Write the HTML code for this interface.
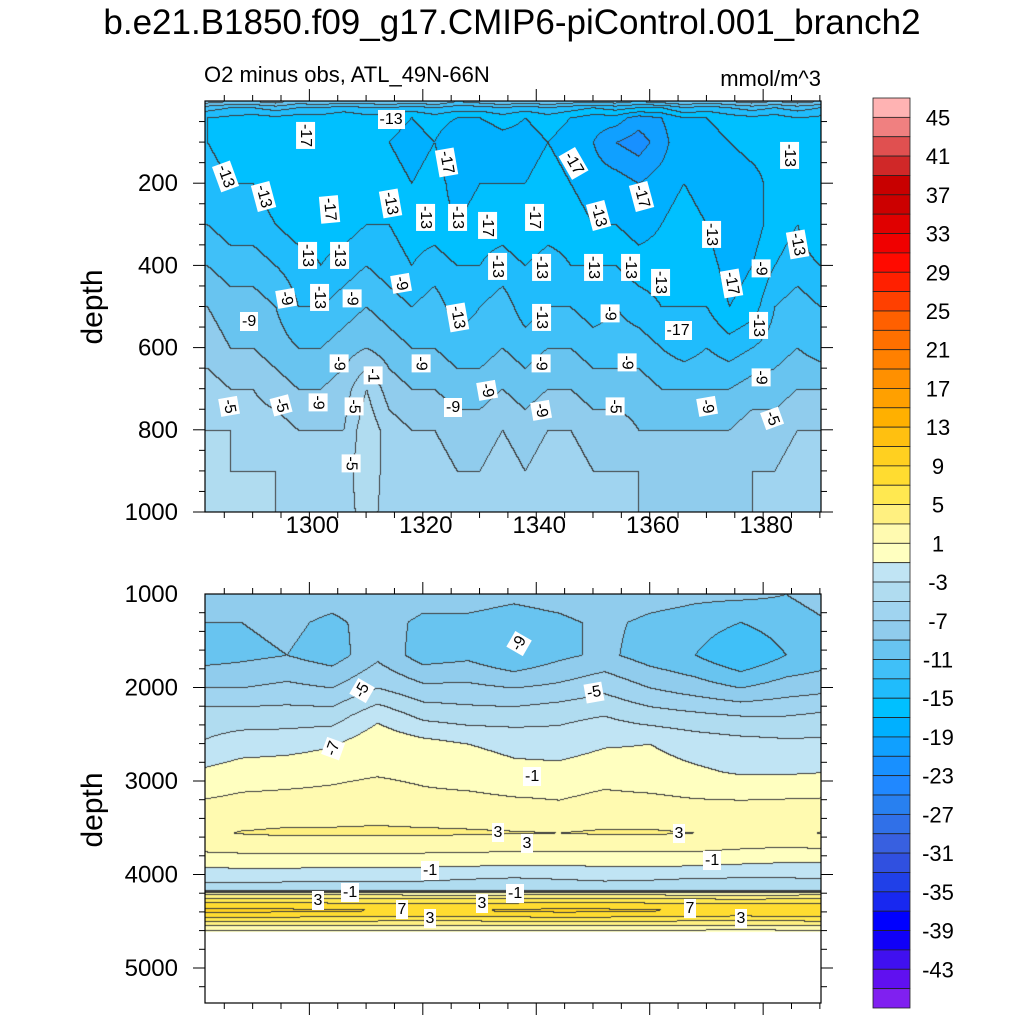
<!DOCTYPE html>
<html><head><meta charset="utf-8">
<style>
html,body{margin:0;padding:0;background:#fff;}
#root{position:relative;width:1024px;height:1024px;overflow:hidden;font-family:"Liberation Sans",sans-serif;color:#000;}
.t{position:absolute;white-space:nowrap;}
.lbl{position:absolute;background:#fff;font-size:16px;line-height:17px;padding:1px 2px;transform-origin:center center;white-space:nowrap;}
canvas{position:absolute;}
svg{position:absolute;left:0;top:0;}
</style></head><body>
<div id="root">
<div class="t" style="left:0;width:1024px;text-align:center;top:3px;font-size:35px;">b.e21.B1850.f09_g17.CMIP6-piControl.001_branch2</div>
<div class="t" style="left:204px;top:62px;font-size:22px;">O2 minus obs, ATL_49N-66N</div>
<div class="t" style="left:620px;width:201px;text-align:right;top:66px;font-size:22px;">mmol/m^3</div>
<div class="t" style="left:43px;top:290px;font-size:30px;line-height:34px;transform:rotate(-90deg);transform-origin:50px 17px;width:100px;text-align:center;">depth</div>
<div class="t" style="left:43px;top:793px;font-size:30px;line-height:34px;transform:rotate(-90deg);transform-origin:50px 17px;width:100px;text-align:center;">depth</div>
<canvas id="cTop" width="616" height="411" style="left:205px;top:101px;"></canvas>
<canvas id="cBot" width="616" height="409" style="left:205px;top:594px;"></canvas>
<svg id="axes" width="1024" height="1024"></svg>
<div id="labels"></div>
</div>
<script>
// ---------- data ----------
const topYears = [1282,1286,1290,1294,1298,1302,1306,1310,1314,1318,1322,1326,1330,1334,1338,1342,1346,1350,1354,1358,1362,1366,1370,1374,1378,1382,1386,1390];
const topDepths = [0,15,40,100,200,300,400,500,600,700,800,900,1000];
const topRows = [
 [-8,-9,-9,-8,-10,-9,-10,-10,-9,-10,-9,-11,-10,-9,-10,-9,-10,-10,-10,-11,-10,-9,-10,-9,-8,-9,-8,-9],
 [-12,-13,-13,-12,-13,-13,-14,-13,-13,-14,-13,-14,-14,-13,-14,-13,-14,-15,-14,-15,-15,-13,-14,-13,-12,-13,-12,-13],
 [-15,-15.5,-16,-15.5,-16,-16,-16.5,-16,-16,-17,-16,-17,-17,-16,-17,-16,-17,-18,-18,-20,-19,-17,-17,-16,-15.5,-16,-15,-15.5],
 [-15,-16,-16,-16,-17,-16,-17,-16,-17,-18,-17,-19,-19,-18,-18,-17,-18,-19,-21,-22,-20,-17,-18,-17,-16,-16,-15,-16],
 [-14,-15,-15,-16,-17,-16,-17,-16,-16,-17,-16,-18,-17,-17,-17,-16,-17,-18,-18,-19,-18,-17,-18,-19,-18,-16,-16,-17],
 [-13,-14,-14,-15,-16,-16,-16,-15,-15,-16,-16,-17,-16,-16,-17,-16,-16,-17,-17,-18,-17,-16,-17,-19,-18,-16,-15,-17],
 [-11,-12,-12,-13,-14,-15,-14,-13,-14,-15,-14,-15,-15,-14,-15,-14,-15,-15,-15,-16,-16,-15,-16,-18,-17,-15,-14,-15],
 [-9,-10,-10,-11,-13,-13,-12,-11,-12,-13,-12,-14,-13,-12,-14,-13,-13,-14,-13,-14,-15,-15,-15,-17,-16,-13,-12,-13],
 [-8,-9,-9,-10,-11,-11,-10,-9,-10,-11,-11,-12,-12,-11,-12,-11,-11,-12,-12,-12,-13,-14,-13,-14,-13,-12,-11,-12],
 [-6,-7,-7,-8,-9,-9,-8,-5,-8,-9,-9,-10,-10,-9,-10,-9,-9,-10,-10,-10,-11,-11,-11,-11,-10,-10,-9,-9],
 [-5,-5,-6,-6,-7,-7,-7,-3.5,-6,-7,-7,-8,-8,-7,-8,-7,-7,-8,-8,-9,-9,-9,-9,-9,-8,-8,-7,-7],
 [-5,-5,-5,-5,-6,-6,-6,-3.5,-6,-6,-6,-7,-7,-6,-7,-6,-6,-7,-7,-7,-8,-8,-8,-8,-7,-7,-6,-6],
 [-5,-5,-5,-5,-6,-6,-6,-4,-6,-6,-6,-6,-7,-6,-6,-6,-6,-7,-7,-7,-7,-8,-7,-7,-7,-6,-6,-6]
];
const botYears = [1280,1288,1296,1304,1312,1320,1328,1336,1344,1352,1360,1368,1376,1384,1392];
const botDepths = [1000,1300,1650,2000,2300,2600,2900,3200,3550,3750,3930,4037,4120,4160,4185,4230,4300,4380,4450,4520,4580,4615];
const botRows = [
 [-7.5,-8,-7.5,-8,-7,-8,-8,-8.5,-8,-7,-8,-8.5,-8.5,-9,-8],
 [-9,-9,-8.5,-9.5,-8,-9.5,-9.5,-10,-9.5,-8.5,-9.5,-10,-11,-10,-9],
 [-10,-9.5,-9,-10,-7.5,-10,-9.5,-11,-9.5,-8.5,-10,-11,-13,-11,-10],
 [-7,-7,-6.5,-7,-5,-6.5,-6.5,-7,-6.5,-5.5,-7,-8,-9,-8,-7.5],
 [-4,-4,-4,-4,-1.5,-3.5,-4,-4,-3.5,-3,-4,-4.5,-5,-5,-4.5],
 [-3,-2,-1.8,-1.2,0.5,-0.3,-1,-1.5,-2,-1.2,-1,-1.8,-2.2,-2.5,-2.5],
 [-0.8,0,0.2,0.5,0.8,0.5,0,-0.5,-0.3,0.2,-0.2,-0.7,-1.2,-1.2,-1],
 [1,1.4,1.5,1.6,2,1.5,1.5,1.2,1,1.5,1.4,1.1,1,1.1,1.2],
 [2.5,3.1,3.3,3.3,3.3,3.3,3.2,3.1,3,3.2,3.2,3,2.8,2.6,3.2],
 [1,1.2,1.3,1.2,1.2,1.2,1.1,1,1,1,1,1,0.7,0.5,0.6],
 [-1.2,-1,-1,-1.2,-1.1,-1.2,-1.3,-1.5,-1.4,-1.3,-1.2,-1.4,-1.6,-1.8,-1.8],
 [-2.5,-2.5,-2.6,-2.6,-2.7,-2.7,-2.9,-3.1,-2.9,-2.7,-2.8,-3,-3.1,-3.1,-2.9],
 [-3.4,-3.4,-3.5,-3.5,-3.6,-3.6,-3.8,-4.2,-3.8,-3.6,-3.7,-4.1,-4.2,-4.1,-3.8],
 [-3.2,-3.2,-3.3,-3.3,-3.3,-3.4,-3.5,-3.6,-3.5,-3.4,-3.4,-3.6,-3.7,-3.7,-3.5],
 [1.5,1.5,1.4,1.4,1.3,1.3,1.2,1.2,1.3,1.4,1.3,1.2,1.2,1.3,1.4],
 [4.2,4.3,4.2,4.1,4,3.9,3.9,4,4.2,4.2,4,3.9,3.8,3.9,4],
 [7.2,7.3,7.2,7,6.9,6.8,6.8,7,7.2,7.2,7,6.9,6.8,6.9,7],
 [9.6,9.7,9.5,9.3,9.1,9,9,9.3,9.6,9.5,9.2,9,8.9,9,9.2],
 [7,7.1,7,6.9,6.8,6.7,6.7,6.9,7.1,7,6.8,6.7,6.6,6.7,6.8],
 [4,4.1,4,3.9,3.8,3.8,3.8,3.9,4,4,3.9,3.8,3.7,3.8,3.9],
 [1.5,1.5,1.5,1.4,1.4,1.4,1.4,1.4,1.5,1.5,1.4,1.4,1.3,1.4,1.4],
 [0,0,0,0,-0.2,-0.2,-0.2,0,0,0,-0.2,-0.2,-0.3,-0.2,-0.2]
];
const cbLabels = ["45","41","37","33","29","25","21","17","13","9","5","1","-3","-7","-11","-15","-19","-23","-27","-31","-35","-39","-43"];
const topYTicks = [200,400,600,800,1000];
const botYTicks = [1000,2000,3000,4000,5000];
const xTicks = [1300,1320,1340,1360,1380];
const palette = ["#ffb3b3","#f08080","#e05050","#d02828","#c80000","#cc0000","#e00000","#f00000","#ff0a00","#ff2000","#ff4000","#ff6000","#ff7000","#ff8000","#ff9000","#ffa000","#ffb000","#ffc010","#ffd020","#ffdc30","#ffe850","#fff080","#fffab0","#ffffc0","#c0e4f4","#b0dcf0","#a0d4f0","#90cced","#68c4f0","#40c0f8","#20bcfc","#00c0ff","#00b0ff","#10a0ff","#1890ff","#2088ff","#2880f0","#3070e8","#3860e0","#3050e0","#2040e8","#1828f0","#0000ff","#1000f8","#4010f0","#6010f0","#8020f0"];

// ---------- axes ----------
const PX0=205, PX1=821, YR0=1281.6, YR1=1390.2;
const xOf = yr => PX0 + (yr-YR0)/(YR1-YR0)*(PX1-PX0);
const yrOf = x => YR0 + (x-PX0)/(PX1-PX0)*(YR1-YR0);
const TY0=101, TY1=512;
const yTop = d => TY0 + d/1000*(TY1-TY0);
const BY0=594, BY1=1003;
const yBot = d => BY0 + (d-1000)*0.0935;

function interp(arr, v){
  if(v<=arr[0]) return [0,0];
  for(let i=0;i<arr.length-1;i++){ if(v<=arr[i+1]) return [i,(v-arr[i])/(arr[i+1]-arr[i])]; }
  return [arr.length-2,1];
}
function valAt(years,depths,rows,yr,d){
  const [ci,cf]=interp(years,yr), [ri,rf]=interp(depths,d);
  const a=rows[ri][ci], b=rows[ri][ci+1], c=rows[ri+1][ci], e=rows[ri+1][ci+1];
  return (a*(1-cf)+b*cf)*(1-rf)+(c*(1-cf)+e*cf)*rf;
}
function lev(v){ return Math.max(0,Math.min(46,Math.floor((v+45)/2)+1)); }
function hex(h){ return [parseInt(h.substr(1,2),16),parseInt(h.substr(3,2),16),parseInt(h.substr(5,2),16)]; }
const palRGB = palette.map(hex);

function drawField(id, years, depths, rows, depthOfY, y0, maxDepth){
  const cv=document.getElementById(id), ctx=cv.getContext('2d');
  const W=cv.width, H=cv.height, img=ctx.createImageData(W,H);
  const L=new Int16Array(W*H);
  for(let j=0;j<H;j++){ const d=depthOfY(y0+j+0.5);
    for(let i=0;i<W;i++){
      L[j*W+i] = d>maxDepth ? -1 : lev(valAt(years,depths,rows,yrOf(PX0+i+0.5),d));
    }}
  for(let j=0;j<H;j++) for(let i=0;i<W;i++){
    const k=L[j*W+i], p=(j*W+i)*4;
    if(k<0){ img.data[p]=255;img.data[p+1]=255;img.data[p+2]=255;img.data[p+3]=255;continue; }
    let c=palRGB[46-k];
    const edge=(i>0&&L[j*W+i-1]!==k&&L[j*W+i-1]>=0)||(j>0&&L[(j-1)*W+i]!==k&&L[(j-1)*W+i]>=0);
    if(edge) c=[60,60,60];
    img.data[p]=c[0];img.data[p+1]=c[1];img.data[p+2]=c[2];img.data[p+3]=255;
  }
  ctx.putImageData(img,0,0);
}
drawField('cTop',topYears,topDepths,topRows,y=>(y-TY0)/(TY1-TY0)*1000,TY0,1e9);
drawField('cBot',botYears,botDepths,botRows,y=>1000+(y-BY0)/0.0935,BY0,botDepths[botDepths.length-1]);

// ---------- svg axes ----------
const NS='http://www.w3.org/2000/svg', svg=document.getElementById('axes');
function line(x1,y1,x2,y2,w,nm){ const l=document.createElementNS(NS,'line');
  l.setAttribute('x1',x1);l.setAttribute('y1',y1);l.setAttribute('x2',x2);l.setAttribute('y2',y2);
  l.setAttribute('stroke','#000');l.setAttribute('stroke-width',w);
  
  
  svg.appendChild(l); }
function text(x,y,s,anchor,size,nm){ const t=document.createElementNS(NS,'text');
  t.setAttribute('x',x);t.setAttribute('y',y);t.setAttribute('text-anchor',anchor);
  t.setAttribute('font-size',size);t.setAttribute('font-family','Liberation Sans, sans-serif');
  t.textContent=s;
  
  
  svg.appendChild(t); }
function frame(y0,y1,nm){ const r=document.createElementNS(NS,'rect');
  r.setAttribute('x',PX0);r.setAttribute('y',y0);r.setAttribute('width',PX1-PX0);r.setAttribute('height',y1-y0);
  r.setAttribute('fill','none');r.setAttribute('stroke','#000');r.setAttribute('stroke-width',1.2);
  
  
  svg.appendChild(r); }
frame(TY0,TY1,'top-plot-frame'); frame(BY0,BY1,'bottom-plot-frame');
for(let yr=1285; yr<=1390; yr+=5){
  const major = yr%20===0, x=xOf(yr), len=major?12:6;
  [[TY0,-1],[TY1,1],[BY0,-1],[BY1,1]].forEach(([y,s])=>line(x,y,x,y+s*len,1,major?'x-major-tick':'x-minor-tick'));
}
xTicks.forEach(v=>text(xOf(v)+3,533,String(v),'middle',24,'x-tick-label'));
for(let d=50; d<=1000; d+=50){ const y=yTop(d), major=d%200===0, len=major?12:6;
  line(PX0,y,PX0-len,y,1,major?'top-y-major-tick':'top-y-minor-tick');
  line(PX1,y,PX1+len,y,1,major?'top-y-major-tick':'top-y-minor-tick'); }
topYTicks.forEach(v=>text(178,yTop(v)+8,String(v),'end',24,'top-y-tick-label'));
for(let d=1200; d<=5300; d+=200){ const y=yBot(d), major=d%1000===0, len=major?12:6;
  line(PX0,y,PX0-len,y,1,major?'bottom-y-major-tick':'bottom-y-minor-tick');
  line(PX1,y,PX1+len,y,1,major?'bottom-y-major-tick':'bottom-y-minor-tick'); }
botYTicks.forEach(v=>text(178,yBot(v)+8,String(v),'end',24,'bottom-y-tick-label'));
const CB_X=873, CB_W=37, CB_Y0=98, CB_H=(1008-98)/palette.length;
palette.forEach((c,i)=>{ const r=document.createElementNS(NS,'rect');
  r.setAttribute('x',CB_X);r.setAttribute('y',CB_Y0+i*CB_H);r.setAttribute('width',CB_W);r.setAttribute('height',CB_H);
  r.setAttribute('fill',c);r.setAttribute('stroke','#222');r.setAttribute('stroke-width',0.8);
  
  
  svg.appendChild(r); });
cbLabels.forEach((s,i)=>text(938,CB_Y0+(1+2*i)*CB_H+8,s,'middle',22,'colorbar-label'));

// ---------- contour label annotations (pixel placement) ----------
const annotations = [
 [391,119,"-13",0],[305,135,"-17",90],[225,176,"-13",70],[263,196,"-13",75],[446,162,"-17",80],[573,163,"-17",60],
 [641,196,"-17",75],[789,155,"-13",90],[329,209,"-17",85],[390,203,"-13",80],[425,217,"-13",90],[457,217,"-13",90],
 [487,225,"-17",90],[534,217,"-17",90],[598,215,"-13",75],[711,234,"-13",90],[797,244,"-13",80],[307,255,"-13",90],
 [339,255,"-13",90],[497,266,"-13",90],[541,267,"-13",90],[593,267,"-13",90],[630,267,"-13",90],[660,282,"-13",90],
 [731,283,"-17",80],[761,268,"-9",90],[401,283,"-9",80],[286,298,"-9",80],[319,297,"-13",90],[352,298,"-9",90],
 [249,321,"-9",0],[457,317,"-13",80],[541,317,"-13",90],[610,313,"-9",90],[678,330,"-17",0],[758,325,"-13",90],
 [339,363,"-9",90],[373,375,"-1",90],[421,363,"-9",90],[541,363,"-9",90],[627,362,"-9",90],[761,377,"-9",90],
 [487,390,"-9",80],[229,406,"-5",80],[281,405,"-5",75],[318,402,"-9",90],[354,406,"-5",90],[453,407,"-9",0],
 [541,410,"-9",80],[615,406,"-5",90],[707,406,"-9",80],[772,418,"-5",70],[351,463,"-5",90],
 [519,643,"-9",-60],[362,690,"-5",-60],[594,692,"-5",-10],[333,748,"-7",-70],[532,776,"-1",0],[498,832,"3",0],
 [527,843,"3",0],[679,833,"3",0],[430,870,"-1",0],[712,860,"-1",0],[318,900,"3",0],[350,892,"-1",0],
 [402,909,"7",0],[430,918,"3",0],[482,903,"3",0],[515,893,"-1",0],[690,908,"7",0],[741,918,"3",0]
];
const lab=document.getElementById('labels');
annotations.forEach(a=>{ const d=document.createElement('div');
  d.className='lbl'; d.textContent=a[2];
  
  
  lab.appendChild(d);
  const w=d.offsetWidth, h=d.offsetHeight;
  d.style.left=(a[0]-w/2)+'px'; d.style.top=(a[1]-h/2)+'px';
  d.style.transform='rotate('+a[3]+'deg)'; });
</script>
</body></html>
